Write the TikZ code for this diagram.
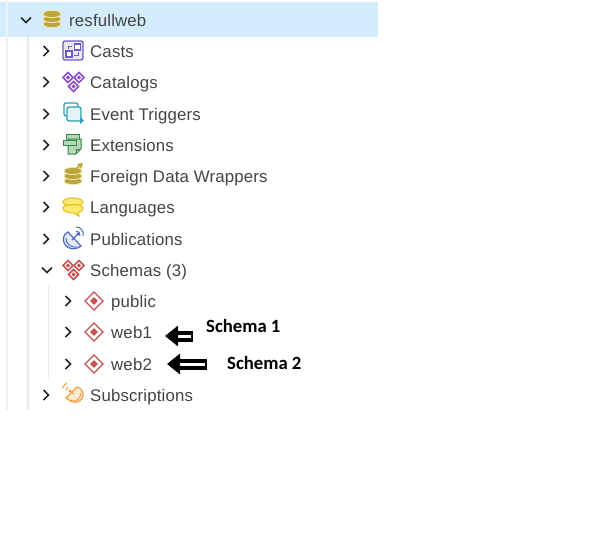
\documentclass[tikz,border=0pt]{standalone}
\usepackage{fontspec}
\setmainfont{Liberation Sans}[LetterSpace=1]
\newfontfamily\notefont{Carlito}
\usetikzlibrary{arrows.meta,positioning}
\definecolor{rowblue}{HTML}{D4EDFC}
\definecolor{guide}{HTML}{E8EAF0}
\definecolor{guidepale}{HTML}{F1F1F3}
\definecolor{textgrey}{HTML}{444444}
\definecolor{dbgold}{HTML}{BBA53C}
\definecolor{dbpale}{HTML}{EFE6B0}
\definecolor{catpurple}{HTML}{8A4FC7}
\definecolor{schemared}{HTML}{C8504F}
\definecolor{castblue}{HTML}{6A5AC8}
\definecolor{trigteal}{HTML}{2E9DB5}
\definecolor{extgreen}{HTML}{2F8A3C}
\definecolor{langyellow}{HTML}{E5C52A}
\definecolor{langfill}{HTML}{FBEB70}
\definecolor{pubblue}{HTML}{4A69C0}
\definecolor{suborange}{HTML}{EE9F3C}
\tikzset{
x=1pt,y=-1pt,
rowtext/.style={anchor=base west,inner sep=0pt,text=textgrey,font=\fontsize{16.8}{18}\selectfont},
notetext/.style={anchor=base west,inner sep=0pt,font=\notefont\bfseries\fontsize{18.7}{20}\selectfont},
chev/.style={line width=1.6pt,draw=black!85},
hollowarrow/.style={draw=black,line width=4pt,double=white,double distance=3pt,{Bar[width=11pt,line width=2.5pt]}-{Triangle[width=20pt,length=13pt]}},
pics/dbstack/.style={code={
	\foreach \h in {5,0,-5}
		\draw[draw=dbpale,fill=dbgold,line width=.9pt] (0,\h) ellipse[x radius=9,y radius=3.6];
}},
pics/diamonds/.style={code={
	\foreach \a/\b in {-5.5/-4.5,5.5/-4.5,0/4.5}
	{
		\draw[draw=#1,fill=white,line width=1.5pt] (\a-5,\b) -- (\a,\b-5) -- (\a+5,\b) -- (\a,\b+5) -- cycle;
		\fill[#1] (\a-2.2,\b) -- (\a,\b-2.2) -- (\a+2.2,\b) -- (\a,\b+2.2) -- cycle;
	}
}},
pics/schemaicon/.style={code={
	\draw[draw=schemared,fill=white,line width=1.2pt] (-9,0) -- (0,-9) -- (9,0) -- (0,9) -- cycle;
	\fill[schemared] (-3.8,0) -- (0,-3.8) -- (3.8,0) -- (0,3.8) -- cycle;
}},
pics/castsicon/.style={code={
	\draw[draw=castblue,fill=castblue!15,line width=1.3pt,rounded corners=2pt] (-10,-10) rectangle (10,9);
	\draw[draw=castblue,fill=white,line width=1.2pt] (1.5,-7) rectangle (7.5,-1);
	\draw[draw=castblue,fill=white,line width=1.2pt] (-7,0) rectangle (-1,6);
	\draw[draw=castblue,line width=1pt] (-5,-2) -- (-5,-5) -- (-1,-5);
	\draw[draw=castblue,line width=1pt] (5,1) -- (5,4) -- (1,4);
}},
pics/triggersicon/.style={code={
	\draw[draw=trigteal,fill=white,line width=1.3pt,rounded corners=2pt] (-9,-11) rectangle (5,2);
	\draw[draw=trigteal,fill=trigteal!12,line width=1.3pt,rounded corners=2pt] (-6,-7) rectangle (8,7);
	\fill[trigteal] (7,3) -- (11,6.5) -- (7,10) -- cycle;
}},
pics/extensionsicon/.style={code={
	\draw[draw=extgreen,fill=extgreen!35,line width=1pt] (-7,-11) rectangle (6,-5);
	\draw[draw=extgreen,fill=extgreen!35,line width=1pt] (-5,-6) -- (8,-6) -- (8,4) -- (3,9) -- (-5,9) -- cycle;
	\draw[draw=extgreen,fill=extgreen!35,line width=1pt] (-10,-5) rectangle (3,0);
	\draw[draw=extgreen,line width=1pt] (3,9) -- (3,4) -- (8,4);
}},
pics/foreignicon/.style={code={
	\pic at (0,0) {dbstack};
	\draw[draw=dbgold,line width=1.5pt,-{Triangle[width=6pt,length=5pt]}] (3,-7) -- (10,-13);
}},
pics/languagesicon/.style={code={
	\draw[draw=langyellow,fill=langfill,line width=1.2pt] (0,-5) ellipse[x radius=10,y radius=4];
	\draw[draw=langyellow,fill=langfill,line width=1.2pt] (-10,1) .. controls (-10,-3.5) and (10,-3.5) .. (10,1) .. controls (10,4) and (7,5.5) .. (5,5.5) -- (6,9) -- (0,5.8) .. controls (-6,6) and (-10,4) .. (-10,1) -- cycle;
}},
pics/pubicon/.style={code={
	\draw[draw=pubblue,fill=pubblue!15,line width=1.2pt] (-5,-7) .. controls (-16,-2) and (-6,17) .. (8,7) -- cycle;
	\draw[draw=pubblue,line width=.9pt] (-7,-1) .. controls (-7,5) and (-2,9) .. (4,8);
	\draw[draw=pubblue,line width=1.1pt] (-1,1) -- (5,-5);
	\fill[pubblue] (5,-5) circle[radius=1.7];
	\draw[draw=pubblue,line width=1pt] (3,-8) .. controls (6,-8) and (7,-6) .. (7,-3);
	\draw[draw=pubblue,line width=1pt] (3,-12) .. controls (8,-12) and (11,-8) .. (10,-3);
}},
pics/subsicon/.style={code={
	\draw[draw=suborange,fill=suborange!22,line width=1.2pt] (4,-8) .. controls (16,-5) and (9,16) .. (-7,3) -- cycle;
	\draw[draw=suborange,line width=.9pt] (-3,5) .. controls (2,8) and (7,5) .. (8,-2);
	\draw[draw=suborange,line width=1.1pt] (1,-1) -- (-3,-4);
	\fill[suborange] (-3,-4) circle[radius=1.6];
	\draw[draw=suborange,line width=1pt] (-7,-4.5) .. controls (-7,-6) and (-6,-7) .. (-5,-7.5);
	\draw[draw=suborange,line width=1pt] (-10.5,-7) .. controls (-9.5,-9) and (-8,-11) .. (-6,-12);
}}
}
\begin{document}
\begin{tikzpicture}

\useasboundingbox[fill=white] (0,0) rectangle (605,544);

% selected row
\fill[rowblue] (0,2) rectangle (378,37);

% guides
\draw[draw=guidepale,line width=2pt] (7,0) -- (7,410);
\draw[draw=guide,line width=2pt] (28,37) -- (28,410);
\draw[draw=guide,line width=1pt] (48.5,285) -- (48.5,378);

% tree rows
\node[rowtext] (root) at (69,26) {resfullweb};
\foreach \N/\Y/\T in {casts/51/Casts,catalogs/82/Catalogs,triggers/114/Event Triggers,
	extensions/145/Extensions,foreign/176/Foreign Data Wrappers,languages/207/Languages,
	publications/239/Publications,schemas/270/Schemas (3),subscriptions/395/Subscriptions}
{
	\node[rowtext] (\N) at (90,\Y+6) {\T};
}
\foreach \N/\Y/\T in {public/301/public,web1/332/web1,web2/364/web2}
{
	\node[rowtext] (\N) at (111,\Y+6) {\T};
	\draw[chev] (65.5,\Y-5) -- (70.5,\Y) -- (65.5,\Y+5);
	\pic at (94,\Y) {schemaicon};
}

% chevrons
\foreach \Y in {51,82,114,145,176,207,239,395}
	\draw[chev] (43.5,\Y-5) -- (48.5,\Y) -- (43.5,\Y+5);
\draw[chev] (21,17.5) -- (26,22.5) -- (31,17.5);
\draw[chev] (42,267.5) -- (47,272.5) -- (52,267.5);

% icons
\pic at (52,19) {dbstack};
\pic at (73,51) {castsicon};
\pic at (73.5,82) {diamonds=catpurple};
\pic at (73,114) {triggersicon};
\pic at (73,145) {extensionsicon};
\pic at (73,176) {foreignicon};
\pic at (73,207) {languagesicon};
\pic at (73,239) {pubicon};
\pic at (73.5,270) {diamonds=schemared};
\pic at (73,395) {subsicon};

% notes
\node[notetext] (note1) at (206,332) {Schema 1};
\node[notetext] (note2) at (227,369) {Schema 2};
\coordinate (tail1) at (193,336);
\coordinate (tip1) at (165,336);
\coordinate (tail2) at (207,364);
\coordinate (tip2) at (167,364);
\draw[hollowarrow] (tail1) -- (tip1);
\draw[hollowarrow] (tail2) -- (tip2);
\end{tikzpicture}
\end{document}
